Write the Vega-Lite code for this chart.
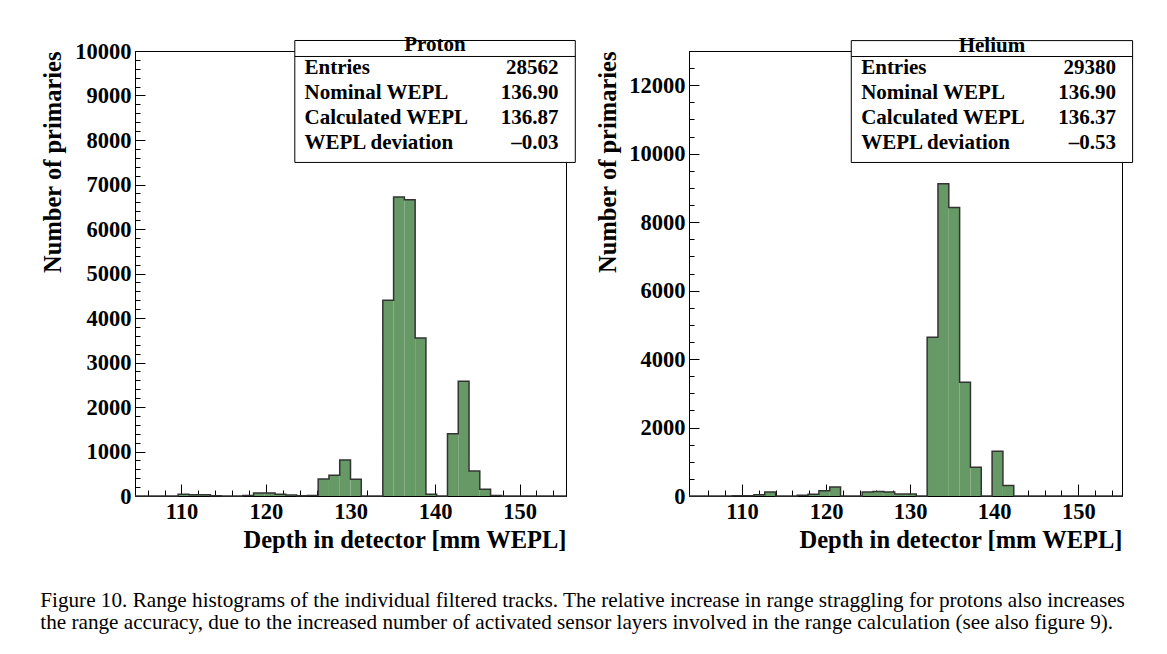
{
  "$schema": "https://vega.github.io/schema/vega-lite/v6.json",
  "background": "white",
  "padding": {"left": 40, "top": 33, "right": 5, "bottom": 5},
  "config": {
    "font": "Liberation Serif",
    "view": {"stroke": "black", "strokeWidth": 1},
    "axis": {
      "labelFont": "Liberation Serif", "labelFontWeight": "bold", "labelFontSize": 22.5, "labelColor": "black",
      "titleFont": "Liberation Serif", "titleFontWeight": "bold", "titleFontSize": 24.5, "titleColor": "black",
      "domainColor": "black", "tickColor": "black", "grid": false,
      "labelFlush": false, "format": "d"
    },
    "concat": {"spacing": 18}
  },
  "title": {
    "text": ["Figure 10. Range histograms of the individual filtered tracks. The relative increase in range straggling for protons also increases", "the range accuracy, due to the increased number of activated sensor layers involved in the range calculation (see also figure 9)."],
    "orient": "bottom", "anchor": "start", "font": "Liberation Serif", "fontSize": 21.2, "fontWeight": "normal",
    "color": "black", "lineHeight": 22, "offset": 38
  },
  "hconcat": [
    {
      "width": 431, "height": 445,
      "resolve": {"axis": {"x": "independent", "y": "independent"}},
      "data": {"values": [
        {"lo": 104.5, "hi": 105.775, "count": 0},
        {"lo": 105.775, "hi": 107.05, "count": 0},
        {"lo": 107.05, "hi": 108.325, "count": 0},
        {"lo": 108.325, "hi": 109.6, "count": 0},
        {"lo": 109.6, "hi": 110.875, "count": 40},
        {"lo": 110.875, "hi": 112.15, "count": 30},
        {"lo": 112.15, "hi": 113.425, "count": 30},
        {"lo": 113.425, "hi": 114.7, "count": 8},
        {"lo": 114.7, "hi": 115.975, "count": 0},
        {"lo": 115.975, "hi": 117.25, "count": 0},
        {"lo": 117.25, "hi": 118.525, "count": 10},
        {"lo": 118.525, "hi": 119.8, "count": 70},
        {"lo": 119.8, "hi": 121.075, "count": 70},
        {"lo": 121.075, "hi": 122.35, "count": 40},
        {"lo": 122.35, "hi": 123.625, "count": 20},
        {"lo": 123.625, "hi": 124.9, "count": 5},
        {"lo": 124.9, "hi": 126.175, "count": 10},
        {"lo": 126.175, "hi": 127.45, "count": 380},
        {"lo": 127.45, "hi": 128.725, "count": 465},
        {"lo": 128.725, "hi": 130.0, "count": 810},
        {"lo": 130.0, "hi": 131.275, "count": 375},
        {"lo": 131.275, "hi": 132.55, "count": 0},
        {"lo": 132.55, "hi": 133.825, "count": 0},
        {"lo": 133.825, "hi": 135.1, "count": 4400},
        {"lo": 135.1, "hi": 136.375, "count": 6720},
        {"lo": 136.375, "hi": 137.65, "count": 6660},
        {"lo": 137.65, "hi": 138.925, "count": 3550},
        {"lo": 138.925, "hi": 140.2, "count": 40},
        {"lo": 140.2, "hi": 141.475, "count": 0},
        {"lo": 141.475, "hi": 142.75, "count": 1400},
        {"lo": 142.75, "hi": 144.025, "count": 2580},
        {"lo": 144.025, "hi": 145.3, "count": 560},
        {"lo": 145.3, "hi": 146.575, "count": 150},
        {"lo": 146.575, "hi": 147.85, "count": 10},
        {"lo": 147.85, "hi": 149.125, "count": 0},
        {"lo": 149.125, "hi": 150.4, "count": 0},
        {"lo": 150.4, "hi": 151.675, "count": 0},
        {"lo": 151.675, "hi": 152.95, "count": 0},
        {"lo": 152.95, "hi": 154.225, "count": 0},
        {"lo": 154.225, "hi": 155.5, "count": 0}
      ]},
      "layer": [
        {
          "mark": {"type": "rect", "fill": "#669966", "strokeWidth": 0},
          "encoding": {
            "x": {"field": "lo", "type": "quantitative",
              "scale": {"domain": [104.5, 155.5], "nice": false, "zero": false},
              "axis": {
                "orient": "bottom", "values": [110, 120, 130, 140, 150],
                "tickSize": -12, "labelPadding": 16.5,
                "title": "Depth in detector [mm WEPL]", "titleAnchor": "end", "titlePadding": 5
              }
            },
            "x2": {"field": "hi"},
            "y": {"field": "count", "type": "quantitative",
              "scale": {"domain": [0, 10000], "nice": false},
              "axis": {
                "orient": "left", "values": [0,1000,2000,3000,4000,5000,6000,7000,8000,9000,10000],
                "tickSize": -10, "labelPadding": 14,
                "title": "Number of primaries", "titleAnchor": "end", "titlePadding": 9
              }
            },
            "y2": {"datum": 0}
          }
        },
        {
          "transform": [{"fold": ["lo", "hi"], "as": ["edge", "pos"]}],
          "mark": {"type": "line", "color": "#333333", "strokeWidth": 1.5},
          "encoding": {
            "x": {"field": "pos", "type": "quantitative",
              "axis": {"orient": "bottom", "values": [106,108,112,114,116,118,122,124,126,128,132,134,136,138,142,144,146,148,152,154], "tickSize": -6, "labels": false, "domain": false, "title": null}
            },
            "y": {"field": "count", "type": "quantitative",
              "axis": {"orient": "left", "values": [200,400,600,800,1200,1400,1600,1800,2200,2400,2600,2800,3200,3400,3600,3800,4200,4400,4600,4800,5200,5400,5600,5800,6200,6400,6600,6800,7200,7400,7600,7800,8200,8400,8600,8800,9200,9400,9600,9800], "tickSize": -5, "labels": false, "domain": false, "title": null}
            },
            "order": [{"field": "pos", "type": "quantitative"}, {"field": "edge", "type": "ordinal", "sort": "ascending"}]
          }
        },
        {
          "data": {"values": [{"name": "Proton", "labels": ["Entries", "Nominal WEPL", "Calculated WEPL", "WEPL deviation"], "vals": ["28562", "136.90", "136.87", "–0.03"]}]},
          "layer": [
            {
              "mark": {"type": "rect", "fill": "white", "stroke": "black", "strokeWidth": 1},
              "encoding": {"x": {"datum": 123.41, "axis": null}, "x2": {"datum": 156.6}, "y": {"datum": 10236, "axis": null}, "y2": {"datum": 7496}}
            },
            {
              "mark": {"type": "rule", "color": "black", "strokeWidth": 1},
              "encoding": {"x": {"datum": 123.41, "axis": null}, "x2": {"datum": 156.6}, "y": {"datum": 9877, "axis": null}}
            },
            {
              "mark": {"type": "text", "font": "Liberation Serif", "fontWeight": "bold", "fontSize": 21, "align": "center", "baseline": "middle", "color": "black"},
              "encoding": {"x": {"datum": 140.0, "axis": null}, "y": {"datum": 10124, "axis": null}, "text": {"field": "name"}}
            },
            {
              "mark": {"type": "text", "font": "Liberation Serif", "fontWeight": "bold", "fontSize": 21, "align": "left", "baseline": "middle", "lineHeight": 25, "color": "black"},
              "encoding": {"x": {"datum": 124.56, "axis": null}, "y": {"datum": 9623, "axis": null}, "text": {"field": "labels"}}
            },
            {
              "mark": {"type": "text", "font": "Liberation Serif", "fontWeight": "bold", "fontSize": 21, "align": "right", "baseline": "middle", "lineHeight": 25, "color": "black"},
              "encoding": {"x": {"datum": 154.62, "axis": null}, "y": {"datum": 9623, "axis": null}, "text": {"field": "vals"}}
            }
          ]
        }
      ]
    },
    {
      "width": 433, "height": 445,
      "resolve": {"axis": {"x": "independent", "y": "independent"}},
      "data": {"values": [
        {"lo": 103.7, "hi": 104.9875, "count": 0},
        {"lo": 104.9875, "hi": 106.275, "count": 0},
        {"lo": 106.275, "hi": 107.5625, "count": 0},
        {"lo": 107.5625, "hi": 108.85, "count": 0},
        {"lo": 108.85, "hi": 110.1375, "count": 5},
        {"lo": 110.1375, "hi": 111.425, "count": 10},
        {"lo": 111.425, "hi": 112.7125, "count": 40},
        {"lo": 112.7125, "hi": 114.0, "count": 115},
        {"lo": 114.0, "hi": 115.2875, "count": 0},
        {"lo": 115.2875, "hi": 116.575, "count": 0},
        {"lo": 116.575, "hi": 117.8625, "count": 20},
        {"lo": 117.8625, "hi": 119.15, "count": 50},
        {"lo": 119.15, "hi": 120.4375, "count": 155},
        {"lo": 120.4375, "hi": 121.725, "count": 265},
        {"lo": 121.725, "hi": 123.0125, "count": 0},
        {"lo": 123.0125, "hi": 124.3, "count": 0},
        {"lo": 124.3, "hi": 125.5875, "count": 115},
        {"lo": 125.5875, "hi": 126.875, "count": 135},
        {"lo": 126.875, "hi": 128.1625, "count": 120},
        {"lo": 128.1625, "hi": 129.45, "count": 55},
        {"lo": 129.45, "hi": 130.7375, "count": 55},
        {"lo": 130.7375, "hi": 132.025, "count": 0},
        {"lo": 132.025, "hi": 133.3125, "count": 4640},
        {"lo": 133.3125, "hi": 134.6, "count": 9120},
        {"lo": 134.6, "hi": 135.8875, "count": 8430},
        {"lo": 135.8875, "hi": 137.175, "count": 3320},
        {"lo": 137.175, "hi": 138.4625, "count": 840},
        {"lo": 138.4625, "hi": 139.75, "count": 0},
        {"lo": 139.75, "hi": 141.0375, "count": 1310},
        {"lo": 141.0375, "hi": 142.325, "count": 310},
        {"lo": 142.325, "hi": 143.6125, "count": 0},
        {"lo": 143.6125, "hi": 144.9, "count": 0},
        {"lo": 144.9, "hi": 146.1875, "count": 0},
        {"lo": 146.1875, "hi": 147.475, "count": 0},
        {"lo": 147.475, "hi": 148.7625, "count": 0},
        {"lo": 148.7625, "hi": 150.05, "count": 0},
        {"lo": 150.05, "hi": 151.3375, "count": 0},
        {"lo": 151.3375, "hi": 152.625, "count": 0},
        {"lo": 152.625, "hi": 153.9125, "count": 0},
        {"lo": 153.9125, "hi": 155.2, "count": 0}
      ]},
      "layer": [
        {
          "mark": {"type": "rect", "fill": "#669966", "strokeWidth": 0},
          "encoding": {
            "x": {"field": "lo", "type": "quantitative",
              "scale": {"domain": [103.7, 155.2], "nice": false, "zero": false},
              "axis": {
                "orient": "bottom", "values": [110, 120, 130, 140, 150],
                "tickSize": -12, "labelPadding": 16.5,
                "title": "Depth in detector [mm WEPL]", "titleAnchor": "end", "titlePadding": 5
              }
            },
            "x2": {"field": "hi"},
            "y": {"field": "count", "type": "quantitative",
              "scale": {"domain": [0, 13000], "nice": false},
              "axis": {
                "orient": "left", "values": [0,2000,4000,6000,8000,10000,12000],
                "tickSize": -10, "labelPadding": 14,
                "title": "Number of primaries", "titleAnchor": "end", "titlePadding": 8
              }
            },
            "y2": {"datum": 0}
          }
        },
        {
          "transform": [{"fold": ["lo", "hi"], "as": ["edge", "pos"]}],
          "mark": {"type": "line", "color": "#333333", "strokeWidth": 1.5},
          "encoding": {
            "x": {"field": "pos", "type": "quantitative",
              "axis": {"orient": "bottom", "values": [106,108,112,114,116,118,122,124,126,128,132,134,136,138,142,144,146,148,152,154], "tickSize": -6, "labels": false, "domain": false, "title": null}
            },
            "y": {"field": "count", "type": "quantitative",
              "axis": {"orient": "left", "values": [500,1000,1500,2500,3000,3500,4500,5000,5500,6500,7000,7500,8500,9000,9500,10500,11000,11500,12500,13000], "tickSize": -5, "labels": false, "domain": false, "title": null}
            },
            "order": [{"field": "pos", "type": "quantitative"}, {"field": "edge", "type": "ordinal", "sort": "ascending"}]
          }
        },
        {
          "data": {"values": [{"name": "Helium", "labels": ["Entries", "Nominal WEPL", "Calculated WEPL", "WEPL deviation"], "vals": ["29380", "136.90", "136.37", "–0.53"]}]},
          "layer": [
            {
              "mark": {"type": "rect", "fill": "white", "stroke": "black", "strokeWidth": 1},
              "encoding": {"x": {"datum": 123.0, "axis": null}, "x2": {"datum": 156.46}, "y": {"datum": 13304, "axis": null}, "y2": {"datum": 9744}}
            },
            {
              "mark": {"type": "rule", "color": "black", "strokeWidth": 1},
              "encoding": {"x": {"datum": 123.0, "axis": null}, "x2": {"datum": 156.46}, "y": {"datum": 12839, "axis": null}}
            },
            {
              "mark": {"type": "text", "font": "Liberation Serif", "fontWeight": "bold", "fontSize": 21, "align": "center", "baseline": "middle", "color": "black"},
              "encoding": {"x": {"datum": 139.73, "axis": null}, "y": {"datum": 13160, "axis": null}, "text": {"field": "name"}}
            },
            {
              "mark": {"type": "text", "font": "Liberation Serif", "fontWeight": "bold", "fontSize": 21, "align": "left", "baseline": "middle", "lineHeight": 25, "color": "black"},
              "encoding": {"x": {"datum": 124.18, "axis": null}, "y": {"datum": 12510, "axis": null}, "text": {"field": "labels"}}
            },
            {
              "mark": {"type": "text", "font": "Liberation Serif", "fontWeight": "bold", "fontSize": 21, "align": "right", "baseline": "middle", "lineHeight": 25, "color": "black"},
              "encoding": {"x": {"datum": 154.48, "axis": null}, "y": {"datum": 12510, "axis": null}, "text": {"field": "vals"}}
            }
          ]
        }
      ]
    }
  ]
}
